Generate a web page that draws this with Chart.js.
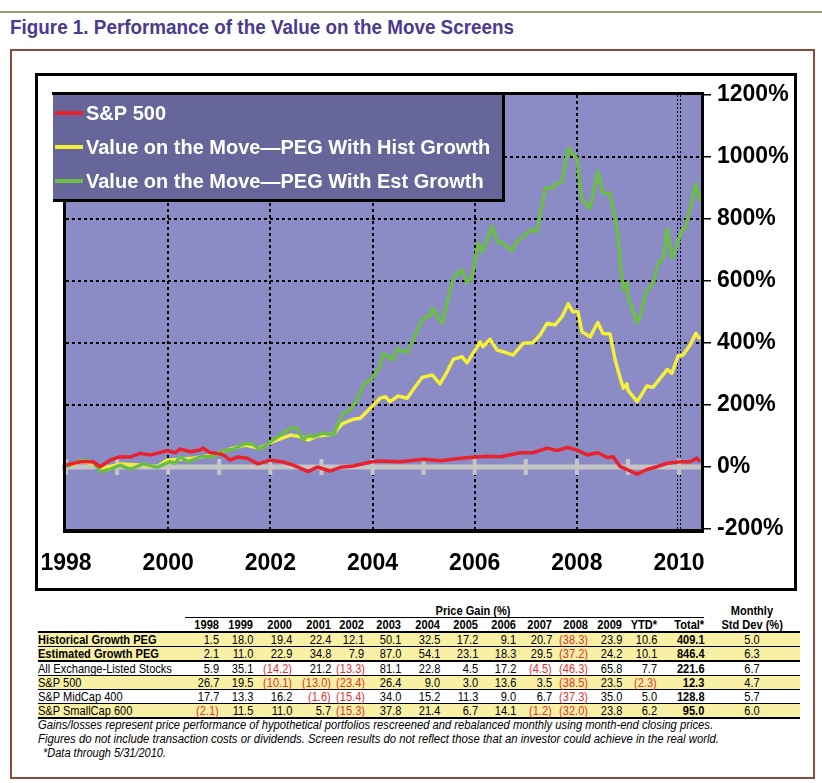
<!DOCTYPE html>
<html>
<head>
<meta charset="utf-8">
<script src="https://cdn.jsdelivr.net/npm/chart.js@4.4.0/dist/chart.umd.min.js"></script>
<style>
body { margin:0; background:#fff; width:822px; height:783px; position:relative; overflow:hidden; font-family:"Liberation Sans", Arial, sans-serif; }
#topRule { position:absolute; left:0; top:11px; width:822px; border-top:2px solid #9d9d76; }
#title { position:absolute; left:10px; top:15px; font:bold 21px "Liberation Sans", Arial, sans-serif; color:#4b3a8d; white-space:nowrap; transform-origin:left top; }
#frame { position:absolute; left:10px; top:49px; width:801px; height:726px; border:2px solid #8c4c3c; }
#chartBox { position:absolute; left:35px; top:73px; width:756px; height:512px; border:3px solid #000; }
#chartBox canvas { position:absolute; left:0; top:0; }
#gainTable { position:absolute; left:38px; top:604px; width:762px; border-collapse:collapse; table-layout:fixed; font:13px "Liberation Sans", Arial, sans-serif; color:#000; }
#gainTable td { padding:0; height:13px; line-height:13px; text-align:right; white-space:nowrap; overflow:visible; }
#gainTable td span { display:inline-block; transform:scaleX(0.85); transform-origin:right center; }
#gainTable td.lab { text-align:left; }
#gainTable td.lab span { transform-origin:left center; }
#gainTable td.ctr { text-align:center; }
#gainTable td.ctr span { transform-origin:center center; }
#gainTable tr.hl td { background:#f8f0a4; }
#gainTable .neg { color:#e5312f; }
.nota { position:absolute; left:38px; font:italic 12.5px "Liberation Sans", Arial, sans-serif; line-height:14px; color:#000; white-space:nowrap; transform-origin:left top; }
</style>
</head>
<body>
<div id="topRule"></div>
<div id="title">Figure 1. Performance of the Value on the Move Screens</div>
<div id="frame"></div>
<div id="chartBox"><canvas id="grafico" width="756" height="512"></canvas></div>
<table id="gainTable"></table>
<div class="nota" id="nota1" style="top:718px">Gains/losses represent price performance of hypothetical portfolios rescreened and rebalanced monthly using month-end closing prices.</div>
<div class="nota" id="nota2" style="top:732px">Figures do not include transaction costs or dividends. Screen results do not reflect those that an investor could achieve in the real world.</div>
<div class="nota" id="nota3" style="top:746px;left:43px">*Data through 5/31/2010.</div>

<script>
// cumulative gain (%), x in decimal years
const sp500Years = [1998.00, 1998.28, 1998.53, 1998.67, 1998.86, 1999.06, 1999.26, 1999.45, 1999.65, 1999.78, 1999.98,
    2000.14, 2000.23, 2000.43, 2000.63, 2000.68, 2000.82, 2000.96, 2001.08, 2001.21, 2001.35, 2001.55, 2001.76,
    2002.00, 2002.23, 2002.45, 2002.74, 2002.92, 2003.17, 2003.37, 2003.62, 2003.99, 2004.15, 2004.54, 2004.99,
    2005.32, 2005.77, 2006.24, 2006.50, 2006.89, 2007.14, 2007.42, 2007.61, 2007.81, 2008.00, 2008.20, 2008.41,
    2008.59, 2008.71, 2008.85, 2008.98, 2009.18, 2009.37, 2009.57, 2009.77, 2010.02, 2010.22, 2010.35, 2010.41];
const sp500Values = [6, 17, 17, 1, 22, 33, 32, 44, 39, 44, 53,
    46, 58, 49, 55, 61, 46, 44, 39, 22, 32, 28, 10,
    22, 17, 6, -15, 0, -13, -1, 3, 17, 19, 17, 25,
    20, 29, 35, 33, 46, 46, 61, 53, 63, 55, 39, 46,
    31, 33, 1, -8, -23, -8, 1, 12, 17, 17, 29, 17];

const histYears = [1998.02, 1998.28, 1998.53, 1998.67, 1999.06, 1999.51, 1999.78, 1999.98, 2000.23, 2000.49, 2000.88,
    2001.15, 2001.50, 2001.80, 2002.05, 2002.39, 2002.58, 2002.74, 2002.92, 2003.23, 2003.42, 2003.62, 2003.76,
    2003.99, 2004.15, 2004.25, 2004.34, 2004.50, 2004.68, 2004.79, 2004.97, 2005.17, 2005.32, 2005.46, 2005.58,
    2005.75, 2005.85, 2006.11, 2006.16, 2006.30, 2006.44, 2006.56, 2006.75, 2006.95, 2007.14, 2007.28, 2007.42,
    2007.57, 2007.71, 2007.83, 2007.92, 2008.02, 2008.10, 2008.26, 2008.41, 2008.51, 2008.65, 2008.75, 2008.85,
    2008.91, 2008.98, 2009.00, 2009.18, 2009.37, 2009.49, 2009.63, 2009.77, 2009.86, 2009.98, 2010.08, 2010.22,
    2010.33, 2010.41];
const histValues = [1, 17, 12, -8, 10, 6, 1, 22, 25, 28, 39,
    55, 71, 60, 82, 103, 98, 87, 100, 106, 141, 154, 157,
    195, 222, 227, 211, 229, 222, 248, 289, 297, 268, 307, 347,
    356, 336, 404, 388, 412, 377, 372, 361, 399, 401, 426, 464,
    458, 485, 526, 501, 501, 436, 420, 466, 431, 429, 345, 286,
    254, 268, 248, 211, 261, 257, 286, 315, 302, 358, 361, 394,
    431, 412];

const estYears = [1998.02, 1998.28, 1998.53, 1998.67, 1998.86, 1999.06, 1999.26, 1999.51, 1999.78, 2000.04, 2000.14,
    2000.23, 2000.39, 2000.63, 2000.88, 2001.08, 2001.27, 2001.50, 2001.64, 2001.80, 2002.05, 2002.39, 2002.52,
    2002.64, 2002.74, 2002.84, 2003.03, 2003.23, 2003.42, 2003.56, 2003.70, 2003.82, 2003.99, 2004.15, 2004.21,
    2004.40, 2004.48, 2004.68, 2004.79, 2004.99, 2005.13, 2005.17, 2005.36, 2005.58, 2005.75, 2005.85, 2005.95,
    2006.07, 2006.16, 2006.34, 2006.44, 2006.56, 2006.73, 2006.83, 2007.02, 2007.14, 2007.22, 2007.38, 2007.51,
    2007.61, 2007.71, 2007.83, 2008.00, 2008.10, 2008.26, 2008.41, 2008.51, 2008.65, 2008.79, 2008.85, 2008.91,
    2008.98, 2009.00, 2009.18, 2009.24, 2009.37, 2009.49, 2009.59, 2009.69, 2009.77, 2009.86, 2009.96, 2010.06,
    2010.12, 2010.22, 2010.33, 2010.41];
const estValues = [1, 22, 17, -15, -8, 6, -8, 10, -1, 17, 12,
    33, 17, 33, 33, 53, 57, 76, 74, 57, 87, 125, 125,
    87, 103, 98, 109, 103, 173, 184, 216, 265, 286, 324, 367,
    345, 381, 369, 410, 480, 487, 513, 464, 610, 636, 594, 614,
    722, 695, 777, 727, 721, 698, 727, 754, 767, 759, 899, 899,
    915, 920, 1028, 996, 861, 835, 953, 883, 883, 765, 657, 571,
    594, 549, 464, 490, 571, 590, 657, 673, 770, 673, 716, 765,
    770, 835, 913, 856];

const serieNomes = ['S&P 500', 'Value on the Move\u2014PEG With Hist Growth', 'Value on the Move\u2014PEG With Est Growth'];
const serieCores = ['#e8232d', '#f4f03a', '#6cbd47'];
const anosEixo = [1998, 2000, 2002, 2004, 2006, 2008, 2010];
const gradeX = [2000, 2002, 2004, 2006, 2008];
const gradeY = [200, 400, 600, 800, 1000];

// price gain table
const tabelaColunas = ['1998', '1999', '2000', '2001', '2002', '2003', '2004', '2005', '2006', '2007', '2008', '2009', 'YTD*', 'Total*'];
const tabelaNomes = ['Historical Growth PEG', 'Estimated Growth PEG', 'All Exchange-Listed Stocks', 'S&P 500', 'S&P MidCap 400', 'S&P SmallCap 600'];
const histGains = [1.5, 18.0, 19.4, 22.4, 12.1, 50.1, 32.5, 17.2, 9.1, 20.7, -38.3, 23.9, 10.6, 409.1];
const estGains = [2.1, 11.0, 22.9, 34.8, 7.9, 87.0, 54.1, 23.1, 18.3, 29.5, -37.2, 24.2, 10.1, 846.4];
const allExchGains = [5.9, 35.1, -14.2, 21.2, -13.3, 81.1, 22.8, 4.5, 17.2, -4.5, -46.3, 65.8, 7.7, 221.6];
const sp500Gains = [26.7, 19.5, -10.1, -13.0, -23.4, 26.4, 9.0, 3.0, 13.6, 3.5, -38.5, 23.5, -2.3, 12.3];
const midCapGains = [17.7, 13.3, 16.2, -1.6, -15.4, 34.0, 15.2, 11.3, 9.0, 6.7, -37.3, 35.0, 5.0, 128.8];
const smallCapGains = [-2.1, 11.5, 11.0, 5.7, -15.3, 37.8, 21.4, 6.7, 14.1, -1.2, -32.0, 23.8, 6.2, 95.0];
const desvioMensal = [5.0, 6.3, 6.7, 4.7, 5.7, 6.0];
const linhasDestaque = [0, 1, 3, 5];

const corFundo = '#8b8bc5';
const corLegenda = '#66669b';

function pontos(anos, valores) {
    var lista = [];
    for (i = 0; i < anos.length; i++) {
        lista.push({ x: anos[i], y: valores[i] });
    }
    return lista;
}

const decoracao = {
    id: 'decoracao',
    beforeDraw(chart) {
        const { ctx, chartArea: a } = chart;
        ctx.save();
        ctx.fillStyle = corFundo;
        ctx.fillRect(a.left, a.top, a.right - a.left, a.bottom - a.top);
        ctx.restore();
    },
    beforeDatasetsDraw(chart) {
        const { ctx, chartArea: a } = chart;
        const x = chart.scales.x, y = chart.scales.y;
        ctx.save();
        ctx.strokeStyle = '#000';
        ctx.lineWidth = 2;
        ctx.setLineDash([3, 3]);
        gradeY.forEach(v => {
            const py = Math.round(y.getPixelForValue(v));
            ctx.beginPath(); ctx.moveTo(a.left, py); ctx.lineTo(a.right, py); ctx.stroke();
        });
        gradeX.forEach(v => {
            const px = Math.round(x.getPixelForValue(v));
            ctx.beginPath(); ctx.moveTo(px, a.top); ctx.lineTo(px, a.bottom); ctx.stroke();
        });
        // 2010 is drawn as a double dotted line
        const p10 = Math.round(x.getPixelForValue(2010));
        ctx.lineWidth = 1;
        ctx.setLineDash([2, 2]);
        [p10 - 1.5, p10 + 1.5].forEach(px => {
            ctx.beginPath(); ctx.moveTo(px, a.top); ctx.lineTo(px, a.bottom); ctx.stroke();
        });
        // zero line with year marks
        ctx.setLineDash([]);
        ctx.strokeStyle = '#c5c5c5';
        const y0 = y.getPixelForValue(0);
        ctx.lineWidth = 5;
        ctx.beginPath(); ctx.moveTo(a.left - 4, y0); ctx.lineTo(a.right, y0); ctx.stroke();
        ctx.lineWidth = 4;
        for (let ano = 1998; ano <= 2010; ano++) {
            const px = x.getPixelForValue(ano);
            ctx.beginPath(); ctx.moveTo(px, y0 - 8); ctx.lineTo(px, y0 + 8); ctx.stroke();
        }
        ctx.restore();
    },
    afterDatasetsDraw(chart) {
        const { ctx, chartArea: a } = chart;
        ctx.save();
        ctx.strokeStyle = '#000';
        ctx.lineWidth = 3;
        ctx.strokeRect(a.left - 1.5, a.top - 1.5, a.right - a.left + 3, a.bottom - a.top + 3);
        ctx.lineWidth = 2;
        ctx.beginPath(); ctx.moveTo(a.left - 3, a.bottom + 3); ctx.lineTo(a.right + 3, a.bottom + 3); ctx.stroke();

        // legend box
        const lx = a.left - 13, ly = a.top, lw = 449, lh = 104;
        ctx.fillStyle = corLegenda;
        ctx.fillRect(lx, ly, lw, lh);
        ctx.lineWidth = 3;
        ctx.beginPath();
        ctx.moveTo(lx, ly + lh + 1.5); ctx.lineTo(lx + lw + 1.5, ly + lh + 1.5); ctx.lineTo(lx + lw + 1.5, ly - 1.5);
        ctx.moveTo(lx - 1, ly - 1.5); ctx.lineTo(lx + lw, ly - 1.5);
        ctx.stroke();
        ctx.font = 'bold 20px "Liberation Sans", Arial, sans-serif';
        ctx.textBaseline = 'middle';
        chart.data.datasets.forEach((ds, i) => {
            const cy = ly + 18 + i * 34;
            ctx.strokeStyle = ds.borderColor;
            ctx.lineWidth = 4;
            ctx.beginPath(); ctx.moveTo(lx + 2, cy); ctx.lineTo(lx + 30, cy); ctx.stroke();
            ctx.fillStyle = '#fff';
            ctx.fillText(ds.label, lx + 33, cy + 1);
        });
        ctx.restore();
    }
};

const configGrafico = {
    type: 'line',
    data: {
        datasets: [
            { label: serieNomes[0], data: pontos(sp500Years, sp500Values), borderColor: serieCores[0], order: 0 },
            { label: serieNomes[1], data: pontos(histYears, histValues), borderColor: serieCores[1], order: 2 },
            { label: serieNomes[2], data: pontos(estYears, estValues), borderColor: serieCores[2], order: 1 }
        ]
    },
    options: {
        responsive: false,
        animation: false,
        layout: { padding: { left: 28, top: 19, right: 0, bottom: 0 } },
        elements: {
            line: { borderWidth: 3.5, tension: 0, borderJoinStyle: 'round' },
            point: { radius: 0 }
        },
        plugins: { legend: { display: false }, tooltip: { enabled: false } },
        scales: {
            x: {
                type: 'linear',
                min: 1998,
                max: 2010.43,
                afterFit: s => { s.height = 59; s.paddingLeft = 0; s.paddingRight = 0; },
                afterBuildTicks: s => { s.ticks = anosEixo.map(v => ({ value: v })); },
                grid: { display: false, drawTicks: false },
                border: { display: false },
                ticks: {
                    autoSkip: false,
                    maxRotation: 0,
                    padding: 21,
                    color: '#000',
                    font: { family: '"Liberation Sans", Arial, sans-serif', weight: 'bold', size: 23 },
                    callback: v => String(v)
                }
            },
            y: {
                position: 'right',
                min: -200,
                max: 1200,
                afterFit: s => { s.width = 93; s.paddingTop = 0; s.paddingBottom = 0; },
                grid: { display: true, drawOnChartArea: false, drawTicks: true, tickLength: 10, color: '#000', lineWidth: 1.5 },
                border: { display: false },
                ticks: {
                    stepSize: 200,
                    padding: 6,
                    color: '#000',
                    font: { family: '"Liberation Sans", Arial, sans-serif', weight: 'bold', size: 23 },
                    callback: v => v + '%'
                }
            }
        }
    },
    plugins: [decoracao]
};

window.myChartValor = new Chart(document.getElementById('grafico'), configGrafico);

// table
function celula(texto, classe, negrito) {
    const td = document.createElement('td');
    if (classe) td.className = classe;
    const sp = document.createElement('span');
    sp.textContent = texto;
    td.appendChild(sp);
    if (negrito) td.style.fontWeight = 'bold';
    return td;
}

function celulaNumero(v, negrito) {
    if (v < 0) {
        return celula('(' + Math.abs(v).toFixed(1) + ')', 'neg', negrito);
    }
    return celula(v.toFixed(1), '', negrito);
}

function montarTabela() {
    const tabela = document.getElementById('gainTable');
    const larguras = [147, 34, 34, 39, 39, 33, 37, 39, 38, 38, 36, 36, 34, 35, 47, 96];
    const cg = document.createElement('colgroup');
    larguras.forEach(w => { const c = document.createElement('col'); c.style.width = w + 'px'; cg.appendChild(c); });
    tabela.appendChild(cg);

    let tr = document.createElement('tr');
    tr.appendChild(celula('', 'lab'));
    const titulo = celula('Price Gain (%)', 'ctr', true);
    titulo.colSpan = 14;
    titulo.style.paddingLeft = '56px';
    titulo.style.borderBottom = '1px solid #000';
    tr.appendChild(titulo);
    tr.appendChild(celula('Monthly', 'ctr', true));
    tabela.appendChild(tr);

    tr = document.createElement('tr');
    tr.style.borderBottom = '2px solid #000';
    tr.appendChild(celula('', 'lab'));
    tabelaColunas.forEach(c => tr.appendChild(celula(c, '', true)));
    tr.appendChild(celula('Std Dev (%)', 'ctr', true));
    tabela.appendChild(tr);

    const linhas = [histGains, estGains, allExchGains, sp500Gains, midCapGains, smallCapGains];
    linhas.forEach((valores, r) => {
        const linha = document.createElement('tr');
        if (linhasDestaque.indexOf(r) >= 0) linha.className = 'hl';
        linha.style.borderBottom = (r == 1 || r == 5) ? '2px solid #000' : '1px solid #000';
        linha.appendChild(celula(tabelaNomes[r], 'lab', r < 2));
        valores.forEach((v, c) => linha.appendChild(celulaNumero(v, c == valores.length - 1)));
        linha.appendChild(celula(desvioMensal[r].toFixed(1), 'ctr', false));
        tabela.appendChild(linha);
    });
}
montarTabela();

// squeeze the condensed-looking texts to the widths in the figure
function ajustarLargura(id, alvo) {
    const el = document.getElementById(id);
    const w = el.getBoundingClientRect().width;
    el.style.transform = 'scaleX(' + (alvo / w) + ')';
}
ajustarLargura('title', 504);
ajustarLargura('nota1', 675);
ajustarLargura('nota2', 681);
ajustarLargura('nota3', 123);
</script>
</body>
</html>
